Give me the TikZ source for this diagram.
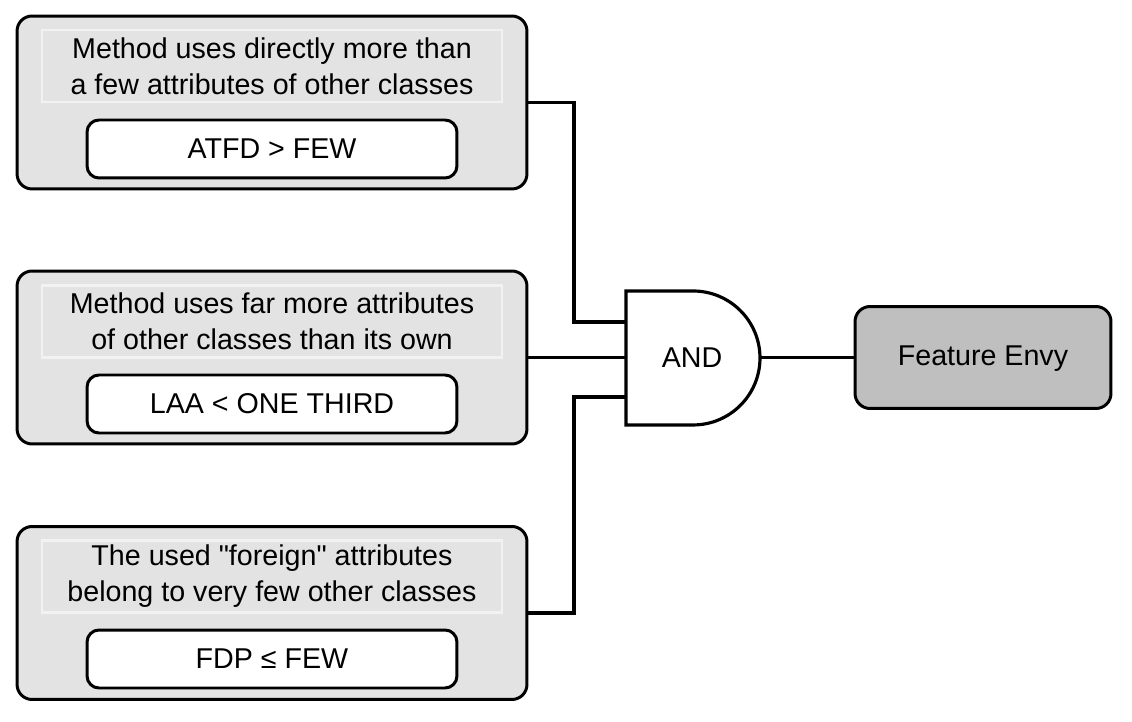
\documentclass[tikz,border=0pt]{standalone}
\usepackage{fontspec}
\setmainfont{Liberation Sans}[Ligatures=TeXOff]
\usetikzlibrary{positioning}

\definecolor{boxgray}{HTML}{E3E3E3}
\definecolor{rimgray}{HTML}{F2F2F2}
\definecolor{envygray}{HTML}{BFBFBF}

\tikzset{
  wire/.style={line width=1.8pt},
  condbox/.style={draw, line width=1.7pt, rounded corners=0.3cm, fill=boxgray,
    minimum width=10.2cm, minimum height=3.46cm},
  descbox/.style={draw=rimgray, line width=1.2pt, fill=boxgray, align=center,
    minimum width=9.2cm, minimum height=1.44cm, inner sep=0pt},
  metricbox/.style={draw, line width=1.7pt, rounded corners=0.24cm, fill=white,
    minimum width=7.4cm, minimum height=1.16cm, inner sep=0pt},
  smellbox/.style={draw, line width=1.7pt, rounded corners=0.3cm, fill=envygray,
    minimum width=5.12cm, minimum height=2.04cm}
}

\begin{document}
\begin{tikzpicture}[x=0.02cm, y=-0.02cm, font=\fontsize{16.3}{20.5}\selectfont]
			\useasboundingbox (0,0) rectangle (1132,722);
			% conditions
			\node[condbox] (cond1) at (272,102.5) {};
			\node[descbox] (desc1) at (272,66) {Method uses directly more than\\a few attributes of other classes};
			\node[metricbox] (metric1) at (272,149) {ATFD > FEW};
			\node[condbox] (cond2) at (272,357.5) {};
			\node[descbox] (desc2) at (272,321.5) {Method uses far more attributes\\of other classes than its own};
			\node[metricbox] (metric2) at (272,404) {LAA < ONE THIRD};
			\node[condbox] (cond3) at (272,613) {};
			\node[descbox] (desc3) at (272,576.5) {The used "foreign" attributes\\belong to very few other classes};
			\node[metricbox] (metric3) at (272,659) {FDP ≤ FEW};
			% gate
			\draw[wire, fill=white] (626,291) -- (693,291) arc (90:-90:1.34cm) -- (626,425) -- cycle;
			\node (gate) at (692,358) {AND};
			\coordinate (in1) at (626,322);
			\coordinate (in2) at (626,357.5);
			\coordinate (in3) at (626,397);
			\coordinate (out) at (760,357.5);
			\coordinate (bend1) at (574,102.5);
			\coordinate (bend3) at (574,613);
			% result
			\node[smellbox] (envy) at (983,357.5) {};
			\node (envytext) at (983,359) {Feature Envy};
			\draw[wire] (cond1.east) -- (bend1) |- (in1);
			\draw[wire] (cond2.east) -- (in2);
			\draw[wire] (cond3.east) -- (bend3) |- (in3);
			\draw[wire] (out) -- (envy.west);
\end{tikzpicture}
\end{document}
